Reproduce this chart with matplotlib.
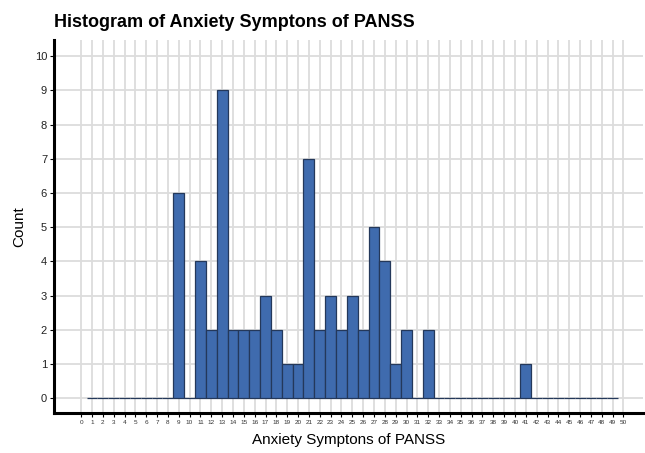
import matplotlib
matplotlib.use("Agg")
import matplotlib.pyplot as plt
import numpy as np

plt.rcParams['font.family'] = ['Liberation Sans', 'DejaVu Sans']

# Data: score bins (1..49) and counts
scores = list(range(1, 50))
nonzero = {9: 6, 11: 4, 12: 2, 13: 9, 14: 2, 15: 2, 16: 2, 17: 3, 18: 2,
           19: 1, 20: 1, 21: 7, 22: 2, 23: 3, 24: 2, 25: 3, 26: 2, 27: 5,
           28: 4, 29: 1, 30: 2, 32: 2, 41: 1}
counts = [nonzero.get(s, 0) for s in scores]
x_ticks = list(range(0, 51))
y_ticks = list(range(0, 11))

title = "Histogram of Anxiety Symptons of PANSS"
xlabel = "Anxiety Symptons of PANSS"
ylabel = "Count"

W, H = 645, 453
fig = plt.figure(figsize=(W / 100, H / 100), dpi=100)
left, right, top, bottom = 54, 643, 40, 413
ax = fig.add_axes([left / W, (H - bottom) / H, (right - left) / W, (bottom - top) / H])

ax.set_axisbelow(True)
ax.grid(True, color='#dcdcdc', linewidth=1.3)
ax.bar(scores, counts, width=1.0, color='#3F6BAE', edgecolor='#24385A',
       linewidth=0.9, zorder=3)

ax.set_xlim(-2.5, 51.8)
ax.set_ylim(-0.43, 10.47)
ax.set_xticks(x_ticks)
ax.set_yticks(y_ticks)
ax.tick_params(axis='x', labelsize=4.6, length=3, width=0.8, pad=2, colors='black', labelcolor='#333333')
ax.tick_params(axis='y', labelsize=8, length=3, width=0.8, pad=2, colors='black', labelcolor='#222222')

for s in ['top', 'right']:
    ax.spines[s].set_visible(False)
for s in ['left', 'bottom']:
    ax.spines[s].set_linewidth(2.2)
    ax.spines[s].set_color('black')

ax.set_xlabel(xlabel, fontsize=11, labelpad=6)
ax.set_ylabel(ylabel, fontsize=11, labelpad=6)
fig.text(left / W, 1 - 27 / H, title, fontsize=13, fontweight='bold', ha='left', va='baseline')

fig.savefig("out.png", dpi=100)
